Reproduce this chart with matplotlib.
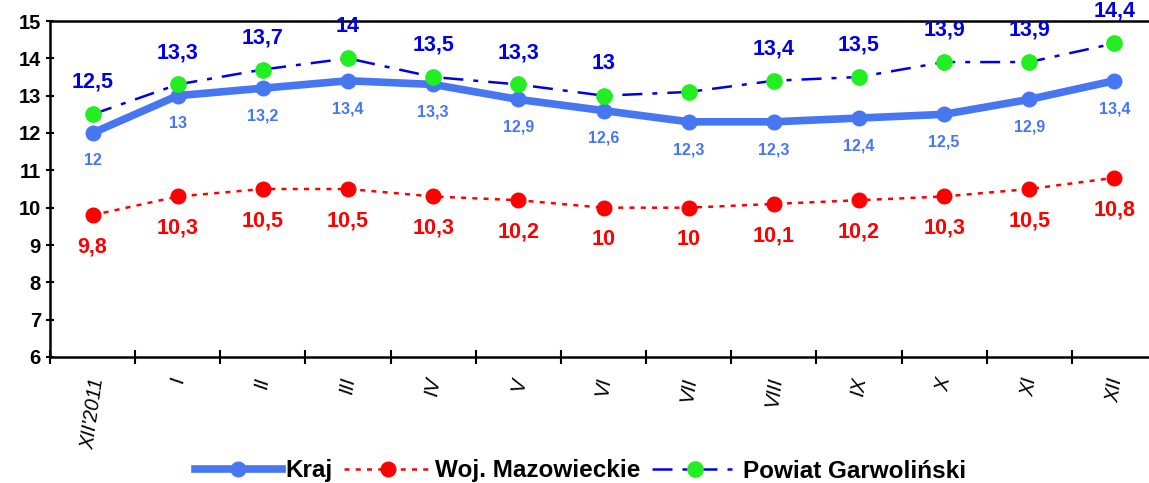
import numpy as np
import matplotlib
matplotlib.use('Agg')
import matplotlib.pyplot as plt

# dane
miesiace = ["XII'2011", "I", "II", "III", "IV", "V", "VI", "VII", "VIII", "IX", "X", "XI", "XII"]
kraj = [12, 13, 13.2, 13.4, 13.3, 12.9, 12.6, 12.3, 12.3, 12.4, 12.5, 12.9, 13.4]
woj = [9.8, 10.3, 10.5, 10.5, 10.3, 10.2, 10, 10, 10.1, 10.2, 10.3, 10.5, 10.8]
powiat = [12.5, 13.3, 13.7, 14, 13.5, 13.3, 13, 13.1, 13.4, 13.5, 13.9, 13.9, 14.4]
powiat_etykiety = [True, True, True, True, True, True, True, False, True, True, True, True, True]

plt.rcParams['font.family'] = ['Liberation Sans', 'DejaVu Sans']

fig = plt.figure(figsize=(11.49, 4.83), dpi=100)
ax = fig.add_axes([50/1149, 1-357/483, 1107/1149, (357-21)/483])

x = np.arange(len(miesiace))

def fmt(v):
    return ('%g' % v).replace('.', ',')

l1, = ax.plot(x, kraj, '-o', color='#4676F0', lw=5.5, ms=10.5, label='Kraj', zorder=3)
l2, = ax.plot(x, woj, linestyle=(0, (2, 2.5)), marker='o', color='#FF0000', lw=1.8, ms=10.5,
              label='Woj. Mazowieckie', zorder=3)
l3, = ax.plot(x, powiat, linestyle=(0, (8, 4, 2, 4)), marker='o', color='#0000E6', lw=1.8, ms=11,
              mfc='#22EE22', mec='#22EE22', label='Powiat Garwoliński', zorder=4)

for i in range(len(x)):
    ax.annotate(fmt(kraj[i]), (x[i], kraj[i]), xytext=(0, -20), textcoords='offset points',
                ha='center', va='center', color='#4676F0', fontsize=11.5, fontweight='bold')
    ax.annotate(fmt(woj[i]), (x[i], woj[i]), xytext=(0, -23), textcoords='offset points',
                ha='center', va='center', color='#FF0000', fontsize=15.5, fontweight='bold')
    if powiat_etykiety[i]:
        ax.annotate(fmt(powiat[i]), (x[i], powiat[i]), xytext=(0, 23), textcoords='offset points',
                    ha='center', va='center', color='#0000E6', fontsize=15.5, fontweight='bold')

ax.set_xlim(-0.5, len(x) - 0.5)
ax.set_ylim(6, 15)
ax.set_yticks(range(6, 16))
ax.set_xticks(np.arange(len(x) + 1) - 0.5, minor=False)
ax.set_xticklabels([])
ax.set_xticks(x, minor=True)
ax.set_xticklabels(miesiace, minor=True, rotation=82, ha='center', va='top',
                   fontstyle='italic', fontsize=14.5)
ax.tick_params(axis='x', which='minor', length=0, pad=14)
ax.tick_params(axis='x', which='major', direction='inout', length=10, width=1.5)
ax.tick_params(axis='y', length=6, width=1.5, direction='inout', labelsize=14.5)
for t in ax.get_yticklabels():
    t.set_fontweight('bold')

for s in ['left', 'bottom', 'top']:
    ax.spines[s].set_linewidth(1.8)
ax.spines['right'].set_visible(False)

leg = fig.legend(handles=[l1, l2, l3], loc='center', bbox_to_anchor=(0.505, 12/483),
                 ncol=3, frameon=False, handlelength=3.6, columnspacing=0.45,
                 handletextpad=0.15, prop={'weight': 'bold', 'size': 17.5})

fig.savefig('out.png', dpi=100)
